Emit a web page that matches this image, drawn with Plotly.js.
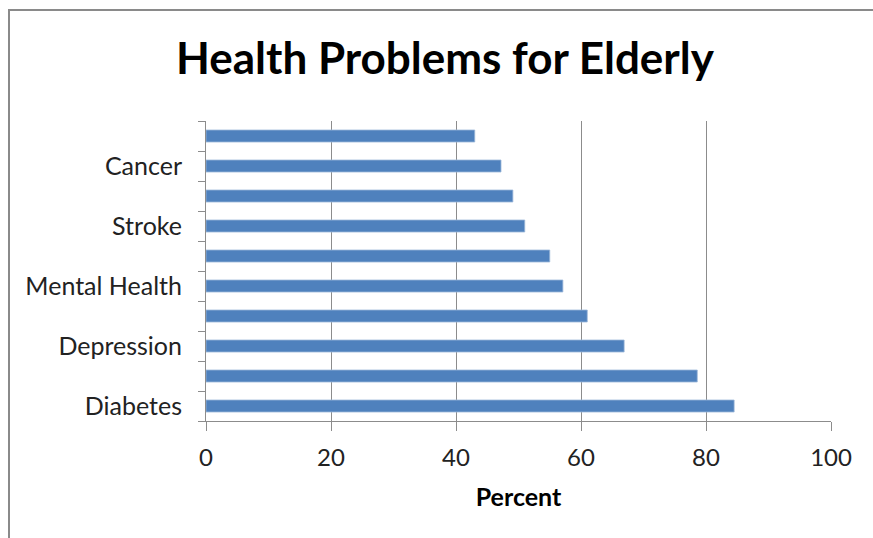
<!DOCTYPE html>
<html>
<head>
<meta charset="utf-8">
<script src="https://cdn.plot.ly/plotly-3.0.1.min.js"></script>
<style>html,body{margin:0;padding:0;background:#fff;}#chart{width:873px;height:538px;}</style>
</head>
<body>
<div id="chart"></div>
<script>
// Categories listed bottom to top; only every other one carries a label in the original
const categoryLabels = ["Diabetes", "", "Depression", "", "Mental Health", "", "Stroke", "", "Cancer", ""];
const percentValues = [84.5, 78.6, 66.9, 61.0, 57.1, 55.0, 51.0, 49.1, 47.2, 43.0];
const xTickValues = [0, 20, 40, 60, 80, 100];
const xTickLabels = ["0", "20", "40", "60", "80", "100"];

const positions = categoryLabels.map((_, i) => i);
const shownIdx = positions.filter(i => categoryLabels[i] !== "");

const L = 206, R = 831, T = 121, B = 421, W = 873, H = 538;
const px = x => (x - L) / (R - L);
const py = y => (B - y) / (B - T);
const FONT = "Lato, 'Open Sans', sans-serif";

const trace = {
  type: "bar",
  orientation: "h",
  x: percentValues,
  y: positions,
  width: 0.4,
  marker: {color: "#4F81BD", line: {color: "#9DB7D9", width: 0.8}},
  hoverinfo: "x"
};

const layout = {
  width: W, height: H,
  margin: {l: L, r: W - R, t: T, b: H - B, pad: 0},
  paper_bgcolor: "#fff",
  plot_bgcolor: "#fff",
  showlegend: false,
  font: {family: FONT, color: "#000"},
  title: {
    text: "<b>Health Problems for Elderly</b>",
    font: {size: 44, family: FONT, color: "#000"},
    x: px(445), xref: "paper", xanchor: "center",
    y: 1 - 59 / H, yref: "container", yanchor: "middle"
  },
  xaxis: {
    range: [0, 100],
    tickvals: xTickValues,
    ticktext: xTickLabels,
    showgrid: true, gridcolor: "#8C8C8C", gridwidth: 1,
    zeroline: false,
    showline: true, linecolor: "#8C8C8C", linewidth: 1,
    ticks: "outside", ticklen: 9, tickcolor: "#8C8C8C",
    tickfont: {size: 24, color: "#222"},
    ticklabelstandoff: 6,
    title: {text: "<b>Percent</b>", font: {size: 25, color: "#000"}, standoff: 18},
    fixedrange: true
  },
  yaxis: {
    range: [-0.5, 9.5],
    tickvals: shownIdx,
    ticktext: shownIdx.map(i => categoryLabels[i]),
    ticks: "", ticklen: 0,
    minor: {tick0: -0.5, dtick: 1, ticks: "outside", ticklen: 7, tickcolor: "#8C8C8C", showgrid: false},
    showgrid: false, zeroline: false,
    showline: true, linecolor: "#8C8C8C", linewidth: 1,
    tickfont: {size: 25, color: "#222"},
    ticklabelstandoff: 18,
    fixedrange: true
  },
  shapes: [
    {type: "rect", xref: "paper", yref: "paper",
     x0: px(9), x1: px(900), y0: py(10), y1: py(600),
     line: {color: "#8A8A8A", width: 2}, fillcolor: "rgba(0,0,0,0)", layer: "below"}
  ],
  annotations: [
    {text: "<b>Figure 48 continued:</b>", xref: "paper", yref: "paper",
     x: px(0), y: py(2), xanchor: "left", yanchor: "bottom", showarrow: false,
     font: {size: 17, color: "#000", family: FONT}}
  ]
};

Plotly.newPlot("chart", [trace], layout, {displayModeBar: false, staticPlot: true});
</script>
</body>
</html>
